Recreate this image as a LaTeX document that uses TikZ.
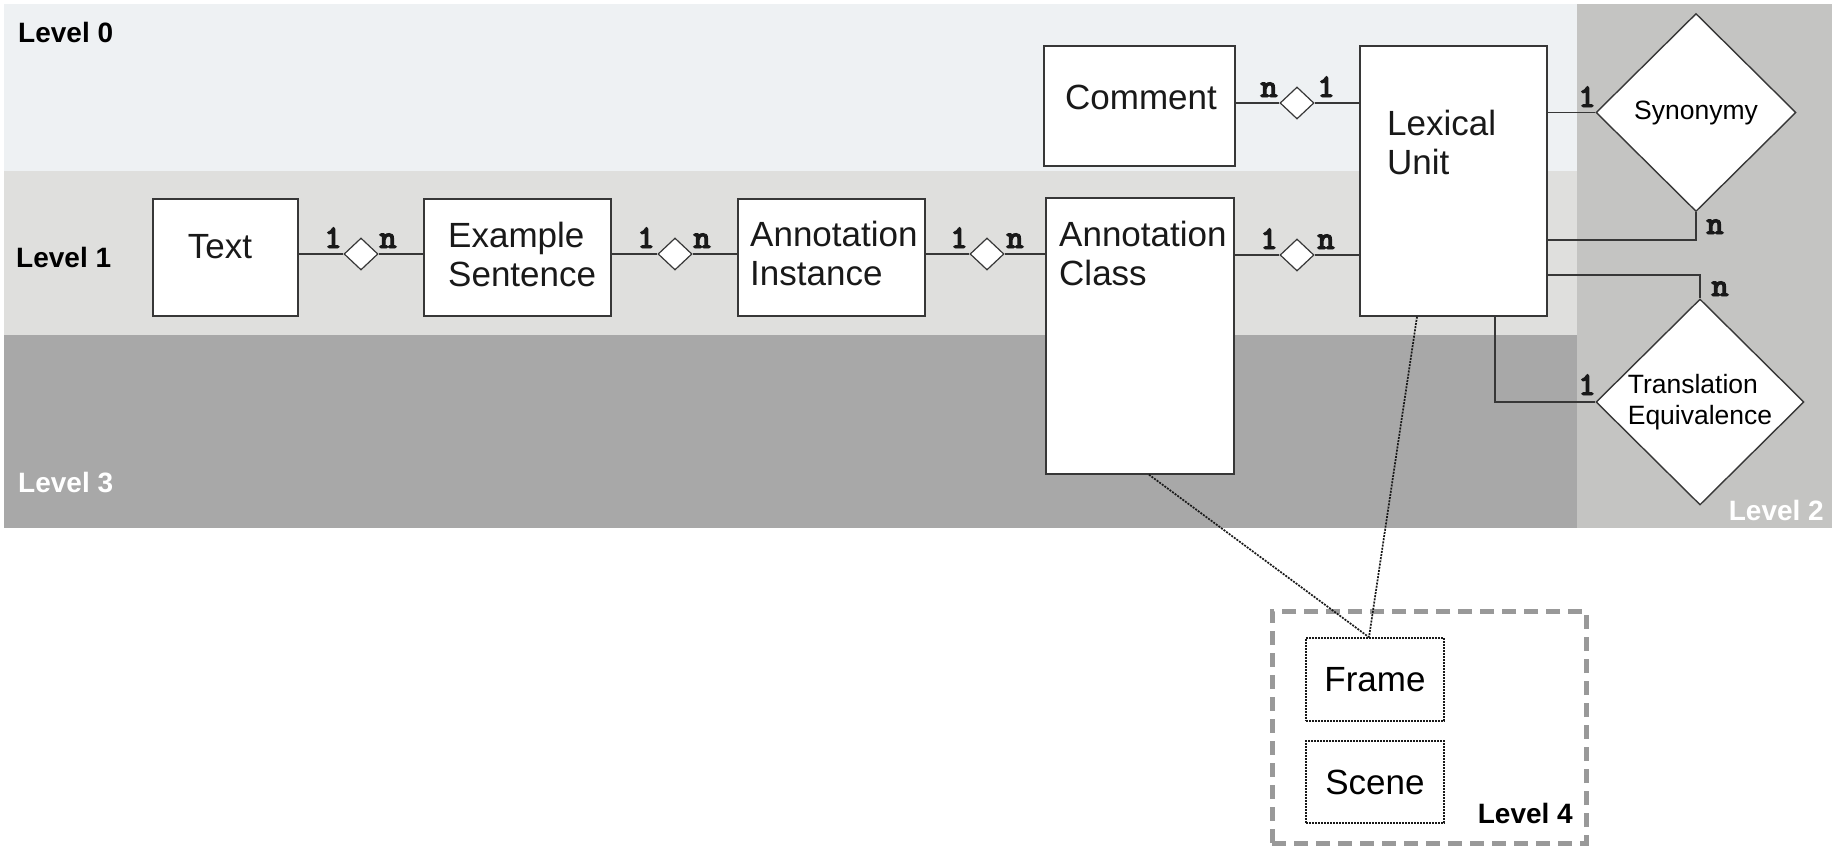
\documentclass[tikz,border=0pt]{standalone}
\usepackage{fontspec}
\setmainfont{Liberation Sans}
\newfontfamily\cardfont[FakeBold=3]{lmmonolt10-bold.otf}
\usetikzlibrary{shapes.geometric,calc}
\definecolor{bandzero}{RGB}{238,241,243}
\definecolor{bandone}{RGB}{223,223,221}
\definecolor{bandtwo}{RGB}{196,196,194}
\definecolor{bandthree}{RGB}{168,168,168}
\definecolor{edge}{RGB}{55,55,55}
\begin{document}
\begin{tikzpicture}[x=1pt,y=-1pt,
  ent/.style={draw=edge, line width=1.4pt, fill=white, inner sep=0pt},
  rel/.style={diamond, draw=edge, line width=1.2pt, fill=white, inner sep=0pt, minimum width=34pt, minimum height=32pt},
  bigrel/.style={diamond, draw=edge, line width=1.4pt, fill=white, inner sep=0pt, font=\fontsize{26.5}{31}\selectfont, align=left},
  txt/.style={font=\fontsize{35}{39}\selectfont, inner sep=0pt, align=left, text=black!90},
  card/.style={font=\cardfont\fontsize{33}{33}\selectfont, inner sep=0pt, anchor=base, text=black!90},
  lvl/.style={font=\bfseries\fontsize{28}{28}\selectfont, inner sep=0pt},
  conn/.style={draw=edge, line width=1.4pt},
  dots/.style={draw=black!90, line width=1.7pt, dash pattern=on 2pt off 1.2pt},
  frm/.style={draw=black!90, line width=1.5pt, dash pattern=on 1.8pt off 1.2pt, fill=white, inner sep=0pt, font=\fontsize{35}{39}\selectfont},
]
\useasboundingbox (0,0) rectangle (1845,851);
% background bands
\fill[bandzero] (4,4) rectangle (1577,171);
\fill[bandone] (4,171) rectangle (1577,335);
\fill[bandthree] (4,335) rectangle (1577,528);
\fill[bandtwo] (1577,4) rectangle (1832,528);

% level labels
\node[lvl, anchor=west] (l0) at (18,32) {Level 0};
\node[lvl, anchor=west] (l1) at (16,257) {Level 1};
\node[lvl, anchor=west, text=white] (l3) at (18,483) {Level 3};
\node[lvl, anchor=east, text=white] (l2) at (1824,510) {Level 2};

% entity boxes
\node[ent, minimum width=145pt, minimum height=117pt] (te) at (225.5,257.5) {};
\node[ent, minimum width=187pt, minimum height=117pt] (es) at (517.5,257.5) {};
\node[ent, minimum width=187pt, minimum height=117pt] (ai) at (831.5,257.5) {};
\node[ent, minimum width=188pt, minimum height=276pt] (ac) at (1140,336) {};
\node[ent, minimum width=191pt, minimum height=120pt] (cm) at (1139.5,106) {};
\node[ent, minimum width=187pt, minimum height=270pt] (lu) at (1453.5,181) {};

\node[txt] (teT) at (220,247) {Text};
\node[txt, anchor=west] (esT) at (448,254) {Example\\Sentence};
\node[txt, anchor=west] (aiT) at (750,253) {Annotation\\Instance};
\node[txt, anchor=west] (acT) at (1059,253) {Annotation\\Class};
\node[txt] (cmT) at (1141,97) {Comment};
\node[txt, anchor=west] (luT) at (1387,142.5) {Lexical\\Unit};

% small relationship diamonds
\node[rel] (r1) at (361,254) {};
\node[rel] (r2) at (675,254) {};
\node[rel] (r3) at (987,254) {};
\node[rel] (r4) at (1297,103) {};
\node[rel] (r5) at (1297,255) {};

% big relationship diamonds
\node[bigrel, minimum width=200pt, minimum height=198pt] (syn) at (1696,112.5) {Synonymy};
\node[bigrel, minimum width=208pt, minimum height=206pt] (tr) at (1700,402) {Translation\\Equivalence};

% connectors
\draw[conn] (r1.west) -- (r1.west -| te.east);
\draw[conn] (r1.east) -- (r1.east -| es.west);
\draw[conn] (r2.west) -- (r2.west -| es.east);
\draw[conn] (r2.east) -- (r2.east -| ai.west);
\draw[conn] (r3.west) -- (r3.west -| ai.east);
\draw[conn] (r3.east) -- (r3.east -| ac.west);
\draw[conn] (r4.west) -- (r4.west -| cm.east);
\draw[conn] (r4.east) -- (r4.east -| lu.west);
\draw[conn] (r5.west) -- (r5.west -| ac.east);
\draw[conn] (r5.east) -- (r5.east -| lu.west);
\draw[conn] (syn.west) -- (syn.west -| lu.east);
\draw[conn] (syn.south) |- ($(lu.east)+(0,59)$);
\draw[conn] ($(lu.east)+(0,94)$) -| (tr.north);
\draw[conn] ($(lu.south)+(41.5,0)$) |- (tr.west);

% cardinalities
\node[card] (c1a) at (333,248) {1};
\node[card] (c1b) at (388,248) {n};
\node[card] (c2a) at (646,248) {1};
\node[card] (c2b) at (702,248) {n};
\node[card] (c3a) at (959,248) {1};
\node[card] (c3b) at (1015,248) {n};
\node[card] (c4a) at (1269,97) {n};
\node[card] (c4b) at (1326,97) {1};
\node[card] (c5a) at (1269,249) {1};
\node[card] (c5b) at (1326,249) {n};
\node[card] (c6a) at (1587,107) {1};
\node[card] (c6b) at (1715,234) {n};
\node[card] (c7a) at (1720,296) {n};
\node[card] (c7b) at (1587,395) {1};

% level 4
\node[draw=black!40, line width=5pt, dash pattern=on 14pt off 8pt, minimum width=314pt, minimum height=232pt, inner sep=0pt] (l4box) at (1429,727) {};
\node[frm, minimum width=138pt, minimum height=83pt] (fr) at (1375,679.5) {Frame};
\node[frm, minimum width=138pt, minimum height=82pt] (sc) at (1375,782) {Scene};
\node[lvl, anchor=east] (l4) at (1573,813) {Level 4};

% dotted links
\draw[dots] ($(ac.south)+(9,0)$) -- ($(fr.north)+(-6,0)$);
\draw[dots] ($(lu.south)+(-36.5,0)$) -- ($(fr.north)+(-6,0)$);
\end{tikzpicture}
\end{document}
